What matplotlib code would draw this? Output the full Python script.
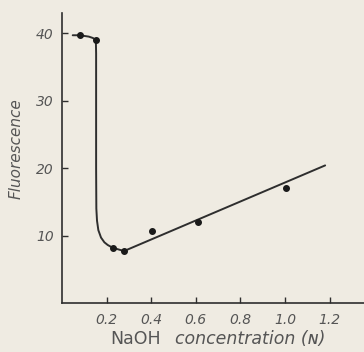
import matplotlib
matplotlib.use("Agg")
import matplotlib.pyplot as plt

# measured points
naoh_conc = [0.08, 0.152, 0.227, 0.278, 0.404, 0.61, 1.005]
fluorescence = [39.7, 39.0, 8.2, 7.7, 10.7, 12.0, 17.0]

# hand-drawn curve through the points
curve_x = [0.048, 0.08, 0.12, 0.138, 0.148, 0.152, 0.153, 0.153, 0.154,
           0.157, 0.163, 0.175, 0.19, 0.205, 0.227, 0.278, 1.18]
curve_y = [39.7, 39.7, 39.5, 39.3, 39.1, 38.7, 37.0, 20.0, 14.0,
           12.2, 10.8, 9.7, 9.0, 8.6, 8.2, 7.7, 20.4]

x_ticks = [0.2, 0.4, 0.6, 0.8, 1.0, 1.2]
x_ticklabels = ["0.2", "0.4", "0.6", "0.8", "1.0", "1.2"]
y_ticks = [10, 20, 30, 40]

bg = "#efebe2"
ink = "#2e2e2e"
text_col = "#555555"

plt.rcParams["font.family"] = ["DejaVu Sans"]

fig = plt.figure(figsize=(3.64, 3.52), dpi=100, facecolor=bg)
ax = fig.add_axes([62 / 364, 1 - 303 / 352, 302 / 364, 290 / 352])
ax.set_facecolor(bg)

ax.plot(curve_x, curve_y, color=ink, lw=1.4, solid_capstyle="round")
ax.plot(naoh_conc, fluorescence, "o", color="#1a1a1a", ms=4)

ax.set_xlim(0, 302 / 223)
ax.set_ylim(0, 43)
ax.set_xticks(x_ticks)
ax.set_xticklabels(x_ticklabels)
ax.set_yticks(y_ticks)

for side in ("top", "right"):
    ax.spines[side].set_visible(False)
for side in ("left", "bottom"):
    ax.spines[side].set_color(ink)
    ax.spines[side].set_linewidth(1.2)

ax.tick_params(direction="in", length=4, width=1, color=ink,
               labelsize=10, labelcolor=text_col)
ax.tick_params(axis="x", pad=7)
ax.tick_params(axis="y", pad=6)
for lab in ax.get_xticklabels() + ax.get_yticklabels():
    lab.set_style("italic")

fig.text(16 / 364, 1 - 149 / 352, "Fluorescence", fontsize=11, style="italic",
         color=text_col, rotation=90, ha="center", va="center")

fig.text(110 / 364, 1 - 344 / 352, "NaOH", fontsize=12.5, color=text_col,
         ha="left", va="baseline")
fig.text(175 / 364, 1 - 344 / 352, "concentration (\u0274)", fontsize=12.5,
         style="italic", color=text_col, ha="left", va="baseline")

fig.savefig("out.png", dpi=100, facecolor=bg)
